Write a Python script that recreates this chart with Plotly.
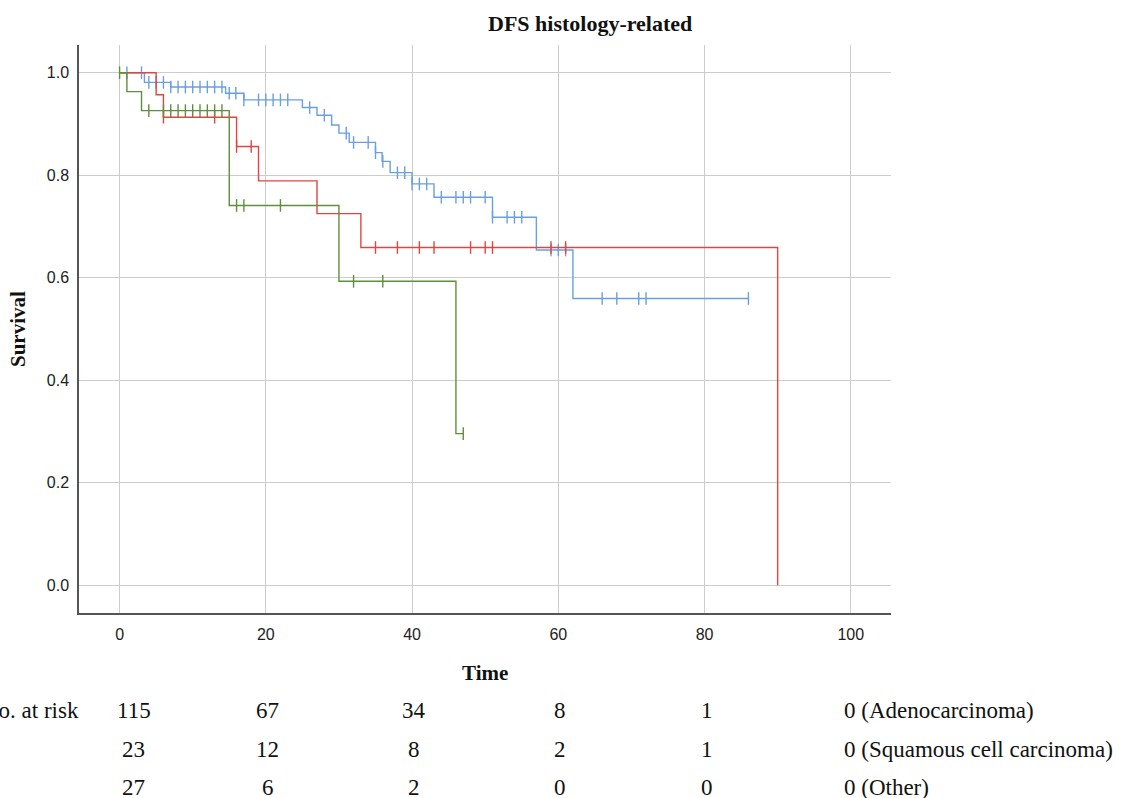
import plotly.graph_objects as go

# ---------------- data ----------------
# Adenocarcinoma (blue)
adeno_event_times = [0, 3.4, 7, 14.5, 17, 25, 27, 29, 30, 31.4, 35, 35.9, 37, 40, 43, 51, 57, 62, 86]
adeno_survival = [1.0, 0.981, 0.972, 0.960, 0.947, 0.932, 0.917, 0.898, 0.882, 0.864, 0.844, 0.827,
                  0.805, 0.783, 0.757, 0.718, 0.654, 0.5595, 0.5595]
adeno_censored = [1, 3, 4, 5, 6, 7, 8, 9, 10, 11, 12, 13, 14, 15, 15.9, 17, 19, 20, 21, 22, 23, 26, 28,
                  31, 32, 34, 35, 36, 38, 39, 40, 41, 42, 44, 46, 47, 48, 50, 51, 53, 54, 55,
                  59, 60, 61, 66, 68, 71, 72, 86]

# Squamous cell carcinoma (red)
squam_event_times = [0, 5, 6, 16, 19, 27, 33, 90]
squam_survival = [1.0, 0.957, 0.913, 0.856, 0.789, 0.725, 0.659, 0.0]
squam_censored = [6, 13, 16, 18, 35, 38, 41, 43, 48, 50, 51, 59, 61]

# Other (green)
other_event_times = [0, 1, 3, 15, 30, 46, 47]
other_survival = [1.0, 0.963, 0.926, 0.741, 0.593, 0.296, 0.296]
other_censored = [0, 4, 6, 7, 8, 9, 10, 11, 12, 13, 14, 16, 17, 22, 32, 36, 47]

# number at risk table
risk_times = [0, 20, 40, 60, 80]
risk_adeno = [115, 67, 34, 8, 1]
risk_squam = [23, 12, 8, 2, 1]
risk_other = [27, 6, 2, 0, 0]
risk_final = ["0 (Adenocarcinoma)", "0 (Squamous cell carcinoma)", "0 (Other)"]

x_ticks = [0, 20, 40, 60, 80, 100]
y_ticks = [0.0, 0.2, 0.4, 0.6, 0.8, 1.0]

COL_BLUE = "#6a9fe0"
COL_RED = "#e2453f"
COL_GREEN = "#5e8f3c"


def surv_at(t, times, surv):
    val = surv[0]
    for tt, s in zip(times, surv):
        if tt <= t:
            val = s
    return val


fig = go.Figure()

groups = [
    ("Adenocarcinoma", adeno_event_times, adeno_survival, adeno_censored, COL_BLUE),
    ("Squamous cell carcinoma", squam_event_times, squam_survival, squam_censored, COL_RED),
    ("Other", other_event_times, other_survival, other_censored, COL_GREEN),
]

for name, times, surv, cens, col in groups:
    fig.add_trace(go.Scatter(
        x=times, y=surv, mode="lines", line=dict(color=col, width=1.4, shape="hv"),
        name=name, showlegend=False, hoverinfo="skip"))
    fig.add_trace(go.Scatter(
        x=cens, y=[surv_at(t, times, surv) for t in cens], mode="markers",
        marker=dict(symbol="line-ns", size=9, line=dict(color=col, width=1.4)),
        showlegend=False, hoverinfo="skip"))

serif = "Liberation Serif, Times New Roman, serif"
sans = "Liberation Sans, Arial, sans-serif"

annotations = []
annotations.append(dict(text="<b>DFS histology-related</b>", xref="paper", yref="paper",
                        x=0.629, y=1.0, yshift=22, xanchor="center", yanchor="middle",
                        showarrow=False, font=dict(family=serif, size=22, color="#111")))
annotations.append(dict(text="<b>Time</b>", xref="paper", yref="paper",
                        x=0.5, y=0, yshift=-60, xanchor="center", yanchor="middle",
                        showarrow=False, font=dict(family=serif, size=21, color="#111")))
annotations.append(dict(text="<b>Survival</b>", xref="paper", yref="paper",
                        x=0, xshift=-61, y=0.5, textangle=-90, xanchor="center", yanchor="middle",
                        showarrow=False, font=dict(family=serif, size=21, color="#111")))

row_shifts = [-97, -136, -174]
rows = [risk_adeno, risk_squam, risk_other]
annotations.append(dict(text="No. at risk", xref="paper", yref="paper", x=0, xshift=2,
                        y=0, yshift=row_shifts[0], xanchor="right", yanchor="middle",
                        showarrow=False, font=dict(family=serif, size=23, color="#111")))
for r, (vals, ys) in enumerate(zip(rows, row_shifts)):
    for i, (t, v) in enumerate(zip(risk_times, vals)):
        annotations.append(dict(text=str(v), xref="x", yref="paper", x=t,
                                xshift=14 if i == 0 else 2,
                                y=0, yshift=ys, xanchor="center", yanchor="middle",
                                showarrow=False, font=dict(family=serif, size=23, color="#111")))
    annotations.append(dict(text=risk_final[r], xref="x", yref="paper", x=100, xshift=-9,
                            y=0, yshift=ys, xanchor="left", yanchor="middle",
                            showarrow=False, font=dict(family=serif, size=23, color="#111")))

fig.update_layout(
    width=1123, height=798,
    margin=dict(l=79, r=232, t=45, b=185),
    paper_bgcolor="white", plot_bgcolor="white",
    annotations=annotations,
    xaxis=dict(range=[-5.55, 105.5], tickvals=x_ticks, ticktext=[str(v) for v in x_ticks],
               showgrid=True, gridcolor="#cdcdcd", gridwidth=1, zeroline=False,
               showline=True, linecolor="#555555", linewidth=1.5,
               ticks="outside", ticklen=6, tickcolor="rgba(0,0,0,0)",
               tickfont=dict(family=sans, size=16, color="#222")),
    yaxis=dict(range=[-0.054, 1.054], tickvals=y_ticks, ticktext=[f"{v:.1f}" for v in y_ticks],
               showgrid=True, gridcolor="#cdcdcd", gridwidth=1, zeroline=False,
               showline=True, linecolor="#555555", linewidth=1.5,
               ticks="outside", ticklen=5, tickcolor="rgba(0,0,0,0)",
               tickfont=dict(family=sans, size=16, color="#222")),
)

fig.write_html("out.html")
